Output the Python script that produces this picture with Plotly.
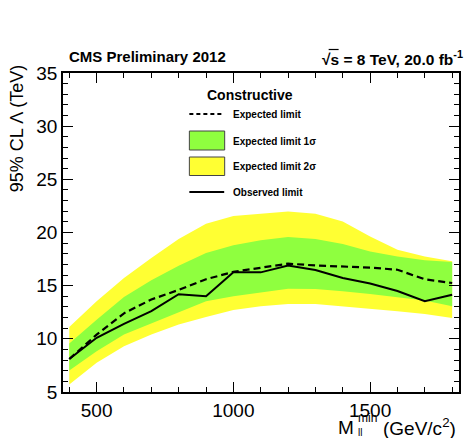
import plotly.graph_objects as go

# ---- data ----
mass = [400, 500, 600, 700, 800, 900, 1000, 1100, 1200, 1300, 1400, 1500, 1600, 1700, 1800]
expected = [8.1, 10.4, 12.4, 13.7, 14.6, 15.6, 16.3, 16.7, 17.07, 16.9, 16.8, 16.7, 16.5, 15.6, 15.25]
observed = [8.1, 10.1, 11.4, 12.6, 14.2, 14.0, 16.27, 16.25, 16.9, 16.47, 15.72, 15.2, 14.5, 13.53, 14.15]
one_sig_up = [9.55, 11.8, 13.94, 15.5, 16.88, 18.07, 18.8, 19.26, 19.57, 19.38, 18.91, 18.22, 17.75, 17.38, 17.22]
one_sig_dn = [7.02, 8.83, 10.4, 11.49, 12.5, 13.53, 14.0, 14.37, 14.72, 14.69, 14.47, 14.22, 13.94, 13.6, 13.06]
two_sig_up = [11.12, 13.53, 15.72, 17.6, 19.38, 20.82, 21.55, 21.8, 21.98, 21.76, 21.04, 19.63, 18.38, 17.75, 17.3]
two_sig_dn = [5.7, 7.74, 9.3, 10.4, 11.34, 12.06, 12.7, 13.06, 13.28, 13.28, 13.06, 12.84, 12.6, 12.34, 11.96]

x_ticks = [500, 1000, 1500]
y_ticks = [5, 10, 15, 20, 25, 30, 35]

YELLOW = "#FFFF33"
GREEN = "#8FFF3F"
FONT = "Liberation Sans, Arial, Helvetica, sans-serif"

W, H = 464, 438
L, R, T, B = 63, 461, 73, 392


def px(x):
    return (x - L) / (R - L)


def py(y):
    return (B - y) / (B - T)


fig = go.Figure()

fig.add_trace(go.Scatter(
    x=mass + mass[::-1], y=two_sig_up + two_sig_dn[::-1],
    fill="toself", fillcolor=YELLOW, line=dict(width=0), mode="lines",
    hoverinfo="skip", showlegend=False))
fig.add_trace(go.Scatter(
    x=mass + mass[::-1], y=one_sig_up + one_sig_dn[::-1],
    fill="toself", fillcolor=GREEN, line=dict(width=0), mode="lines",
    hoverinfo="skip", showlegend=False))
fig.add_trace(go.Scatter(
    x=mass, y=expected, mode="lines",
    line=dict(color="black", width=2.2, dash="7px,4px"), showlegend=False))
fig.add_trace(go.Scatter(
    x=mass, y=observed, mode="lines",
    line=dict(color="black", width=2), showlegend=False))

axis_common = dict(
    showline=True, linecolor="black", linewidth=1.5, mirror="ticks",
    ticks="inside", ticklen=10, tickwidth=1.2, tickcolor="black",
    showgrid=False, zeroline=False,
    tickfont=dict(family=FONT, size=19, color="black"),
)

fig.update_xaxes(range=[377, 1825], tickvals=x_ticks,
                 minor=dict(dtick=100, tick0=0, ticks="inside", ticklen=5,
                            tickwidth=1, tickcolor="black", showgrid=False),
                 **axis_common)
fig.update_yaxes(range=[5, 35], tickvals=y_ticks,
                 minor=dict(dtick=1, tick0=0, ticks="inside", ticklen=5,
                            tickwidth=1, tickcolor="black", showgrid=False),
                 **axis_common)

shapes = []
annotations = []

# legend samples
shapes.append(dict(type="line", xref="paper", yref="paper",
                   x0=px(190), x1=px(225), y0=py(114), y1=py(114),
                   line=dict(color="black", width=2, dash="4px,3px")))
shapes.append(dict(type="rect", xref="paper", yref="paper",
                   x0=px(190), x1=px(225.5), y0=py(150), y1=py(131),
                   fillcolor=GREEN, line=dict(color="#444", width=1)))
shapes.append(dict(type="rect", xref="paper", yref="paper",
                   x0=px(190), x1=px(225.5), y0=py(175.5), y1=py(157),
                   fillcolor=YELLOW, line=dict(color="#444", width=1)))
shapes.append(dict(type="line", xref="paper", yref="paper",
                   x0=px(190), x1=px(225), y0=py(192), y1=py(192),
                   line=dict(color="black", width=2)))
# overbar of the square root
shapes.append(dict(type="line", xref="paper", yref="paper",
                   x0=px(330), x1=px(340), y0=py(49.5), y1=py(49.5),
                   line=dict(color="black", width=1.2)))


def ann(text, x, y, size, xanchor="left", bold=False, angle=0):
    annotations.append(dict(
        text=("<b>%s</b>" % text) if bold else text,
        xref="paper", yref="paper", x=px(x), y=py(y),
        xanchor=xanchor, yanchor="middle", showarrow=False, textangle=angle,
        font=dict(family=FONT, size=size, color="black")))


ann("Constructive", 250.5, 95, 14, xanchor="center", bold=True)
ann("Expected limit", 232, 114, 10, bold=True)
ann("Expected limit 1σ", 232, 141, 10, bold=True)
ann("Expected limit 2σ", 232, 166, 10, bold=True)
ann("Observed limit", 232, 192, 10, bold=True)

ann("CMS Preliminary 2012", 67, 57, 15, bold=True)
ann("√s = 8 TeV, 20.0 fb<sup>-1</sup>", 321, 58, 15.5, xanchor="left", bold=True)

ann("95% CL Λ (TeV)", 17, 129, 18, xanchor="center", angle=-90)

ann("M", 357, 427, 19, xanchor="right")
ann("min", 357, 418, 12, xanchor="left")
ann("ll", 357.5, 432, 10, xanchor="left")
ann("(GeV/c<sup>2</sup>)", 460, 427, 19, xanchor="right")

fig.update_layout(
    width=W, height=H,
    margin=dict(l=L, r=W - R, t=T, b=H - B, pad=0),
    plot_bgcolor="white", paper_bgcolor="white",
    shapes=shapes, annotations=annotations,
    showlegend=False,
)

fig.write_html("out.html")
